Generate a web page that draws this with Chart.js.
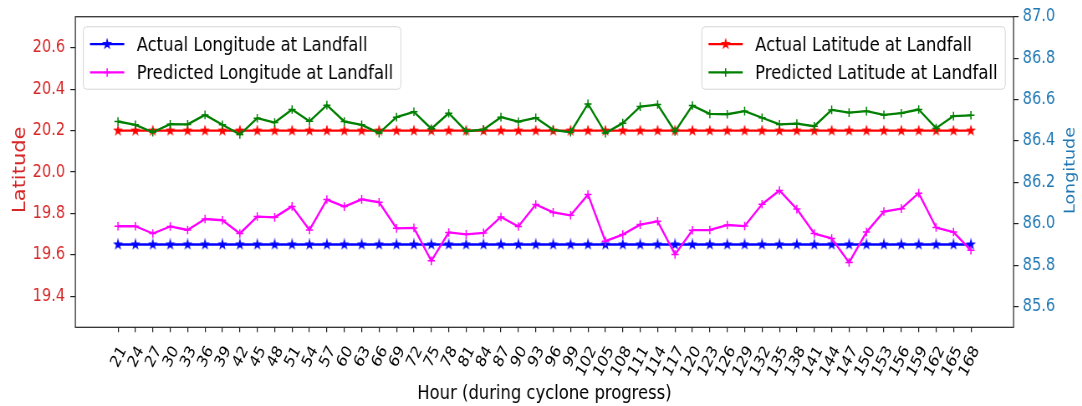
<!DOCTYPE html>
<html>
<head>
<meta charset="utf-8">
<script src="https://cdn.jsdelivr.net/npm/chart.js@4.4.1/dist/chart.umd.min.js"></script>
<style>
  html, body { margin: 0; padding: 0; background: #fff; overflow: hidden; }
  #wrap { width: 1294px; height: 406px; transform: scaleX(0.8362); transform-origin: 0 0; }
  canvas { display: block; }
</style>
</head>
<body>
<div id="wrap"><canvas id="c" width="1294" height="406"></canvas></div>
<script>
// Hours after genesis at which landfall position is estimated
const hours = [21, 24, 27, 30, 33, 36, 39, 42, 45, 48, 51, 54, 57, 60, 63, 66, 69, 72, 75, 78,
  81, 84, 87, 90, 93, 96, 99, 102, 105, 108, 111, 114, 117, 120, 123, 126, 129, 132, 135, 138,
  141, 144, 147, 150, 153, 156, 159, 162, 165, 168];

// Latitude (degrees N) – left axis
const actualLat = [20.2, 20.2, 20.2, 20.2, 20.2, 20.2, 20.2, 20.2, 20.2, 20.2,
  20.2, 20.2, 20.2, 20.2, 20.2, 20.2, 20.2, 20.2, 20.2, 20.2,
  20.2, 20.2, 20.2, 20.2, 20.2, 20.2, 20.2, 20.2, 20.2, 20.2,
  20.2, 20.2, 20.2, 20.2, 20.2, 20.2, 20.2, 20.2, 20.2, 20.2,
  20.2, 20.2, 20.2, 20.2, 20.2, 20.2, 20.2, 20.2, 20.2, 20.2];
const predictedLat = [20.244, 20.228, 20.192, 20.231, 20.230, 20.276, 20.228, 20.181, 20.260, 20.239,
  20.302, 20.245, 20.323, 20.244, 20.228, 20.188, 20.265, 20.291, 20.209, 20.284,
  20.197, 20.205, 20.265, 20.243, 20.262, 20.204, 20.192, 20.329, 20.188, 20.236,
  20.316, 20.326, 20.196, 20.321, 20.281, 20.279, 20.294, 20.262, 20.230, 20.234,
  20.221, 20.300, 20.287, 20.294, 20.276, 20.284, 20.302, 20.212, 20.270, 20.274];

// Longitude (degrees E) – right axis
const actualLon = [85.9, 85.9, 85.9, 85.9, 85.9, 85.9, 85.9, 85.9, 85.9, 85.9,
  85.9, 85.9, 85.9, 85.9, 85.9, 85.9, 85.9, 85.9, 85.9, 85.9,
  85.9, 85.9, 85.9, 85.9, 85.9, 85.9, 85.9, 85.9, 85.9, 85.9,
  85.9, 85.9, 85.9, 85.9, 85.9, 85.9, 85.9, 85.9, 85.9, 85.9,
  85.9, 85.9, 85.9, 85.9, 85.9, 85.9, 85.9, 85.9, 85.9, 85.9];
const predictedLon = [85.988, 85.988, 85.953, 85.987, 85.970, 86.023, 86.017, 85.953, 86.035, 86.031,
  86.084, 85.970, 86.117, 86.083, 86.118, 86.104, 85.978, 85.980, 85.821, 85.958,
  85.949, 85.956, 86.033, 85.987, 86.093, 86.055, 86.041, 86.141, 85.916, 85.948,
  85.996, 86.012, 85.852, 85.969, 85.970, 85.994, 85.989, 86.094, 86.161, 86.071,
  85.953, 85.929, 85.813, 85.960, 86.059, 86.073, 86.148, 85.982, 85.960, 85.872];

// Axis tick values
const latTicks = [19.4, 19.6, 19.8, 20.0, 20.2, 20.4, 20.6];
const lonTicks = [85.6, 85.8, 86.0, 86.2, 86.4, 86.6, 86.8, 87.0];

const FONT = '"DejaVu Sans", sans-serif';
Chart.defaults.font.family = FONT;

// Filled five-point star marker
function makeStar(color) {
  const c = document.createElement('canvas');
  c.width = 12; c.height = 12;
  const g = c.getContext('2d');
  const cx = 6, cy = 6, R = 4.3, r = R * 0.381966;
  g.beginPath();
  for (let k = 0; k < 10; k++) {
    const rad = (k % 2 === 0) ? R : r;
    const a = -Math.PI / 2 + k * Math.PI / 5;
    const px = cx + rad * Math.cos(a), py = cy + rad * Math.sin(a);
    if (k === 0) g.moveTo(px, py); else g.lineTo(px, py);
  }
  g.closePath();
  g.fillStyle = color; g.strokeStyle = color; g.lineWidth = 1.3; g.lineJoin = 'miter';
  g.fill(); g.stroke();
  return c;
}

const pts = vals => hours.map((h, i) => ({ x: h, y: vals[i] }));

function series(label, vals, color, axis, star) {
  return {
    label, data: pts(vals), yAxisID: axis,
    borderColor: color, backgroundColor: color,
    borderWidth: 2.3, tension: 0, borderJoinStyle: 'round',
    pointStyle: star ? makeStar(color) : 'cross',
    pointRadius: 4.3, pointBorderWidth: 1.5,
    pointBorderColor: color, pointBackgroundColor: color
  };
}

const dsPredLon = series('Predicted Longitude at Landfall', predictedLon, '#ff00ff', 'y1', false);
const dsActLon = series('Actual Longitude at Landfall', actualLon, '#0000ff', 'y1', true);
const dsPredLat = series('Predicted Latitude at Landfall', predictedLat, '#008000', 'y', false);
const dsActLat = series('Actual Latitude at Landfall', actualLat, '#ff0000', 'y', true);

function drawMarker(ctx, ds, x, y) {
  if (ds.pointStyle instanceof HTMLCanvasElement) {
    ctx.drawImage(ds.pointStyle, x - ds.pointStyle.width / 2, y - ds.pointStyle.height / 2);
  } else {
    ctx.beginPath();
    ctx.moveTo(x - ds.pointRadius, y); ctx.lineTo(x + ds.pointRadius, y);
    ctx.moveTo(x, y - ds.pointRadius); ctx.lineTo(x, y + ds.pointRadius);
    ctx.strokeStyle = ds.borderColor; ctx.lineWidth = ds.pointBorderWidth;
    ctx.stroke();
  }
}

function roundBox(ctx, x, y, w, h, r) {
  ctx.beginPath();
  ctx.moveTo(x + r, y);
  ctx.lineTo(x + w - r, y); ctx.arcTo(x + w, y, x + w, y + r, r);
  ctx.lineTo(x + w, y + h - r); ctx.arcTo(x + w, y + h, x + w - r, y + h, r);
  ctx.lineTo(x + r, y + h); ctx.arcTo(x, y + h, x, y + h - r, r);
  ctx.lineTo(x, y + r); ctx.arcTo(x, y, x + r, y, r);
  ctx.closePath();
}

function drawLegend(ctx, list, anchorX, top, alignRight) {
  const fs = 19.7;
  ctx.save();
  ctx.font = fs + 'px ' + FONT;
  const tw = Math.max(...list.map(d => ctx.measureText(d.label).width));
  const padL = 8, handle = 41, gap = 14.8, padR = 9.2, h = 62.5;
  const w = padL + handle + gap + tw + padR;
  const x = alignRight ? anchorX - w : anchorX;
  roundBox(ctx, x, top, w, h, 4);
  ctx.fillStyle = 'rgba(255,255,255,0.8)'; ctx.fill();
  ctx.strokeStyle = '#d6d6d6'; ctx.lineWidth = 1; ctx.stroke();
  list.forEach((d, i) => {
    const ry = top + 17.3 + i * 28.4;
    ctx.beginPath();
    ctx.moveTo(x + padL, ry); ctx.lineTo(x + padL + handle, ry);
    ctx.strokeStyle = d.borderColor; ctx.lineWidth = d.borderWidth; ctx.stroke();
    drawMarker(ctx, d, x + padL + handle / 2, ry);
    ctx.fillStyle = '#000'; ctx.textAlign = 'left'; ctx.textBaseline = 'alphabetic';
    ctx.fillText(d.label, x + padL + handle + gap, ry + 6.8);
  });
  ctx.restore();
}

// Frame, axis titles and the two legends
const decorations = {
  id: 'decorations',
  afterDraw(chart) {
    const ctx = chart.ctx, a = chart.chartArea;
    ctx.save();
    ctx.strokeStyle = '#222'; ctx.lineWidth = 1.2;
    ctx.strokeRect(a.left, a.top, a.right - a.left, a.bottom - a.top);

    const midY = (a.top + a.bottom) / 2;
    ctx.textAlign = 'center'; ctx.textBaseline = 'alphabetic';

    ctx.save();
    ctx.fillStyle = '#d62728'; ctx.font = '21px ' + FONT;
    ctx.translate(29.9, midY - 2.3); ctx.rotate(-Math.PI / 2);
    ctx.fillText('Latitude', 0, 0);
    ctx.restore();

    ctx.save();
    ctx.fillStyle = '#1f77b4'; ctx.font = '17.5px ' + FONT;
    ctx.translate(1285, midY - 1.5); ctx.rotate(-Math.PI / 2);
    ctx.fillText('Longitude', 0, 0);
    ctx.restore();

    ctx.fillStyle = '#000'; ctx.font = '19.6px ' + FONT;
    ctx.fillText('Hour (during cyclone progress)', (a.left + a.right) / 2, 399.3);
    ctx.restore();

    drawLegend(ctx, [dsActLon, dsPredLon], a.left + 9.5, a.top + 10, false);
    drawLegend(ctx, [dsActLat, dsPredLat], a.right - 9.9, a.top + 10, true);
  }
};

const tickGrid = len => ({ drawOnChartArea: false, drawTicks: true, tickLength: len, color: '#222', lineWidth: 1.2 });

new Chart(document.getElementById('c'), {
  type: 'line',
  data: { datasets: [dsPredLon, dsActLon, dsPredLat, dsActLat] },
  options: {
    responsive: false,
    animation: false,
    devicePixelRatio: 1,
    layout: { padding: { top: 16, left: 0, right: 0, bottom: 0 } },
    plugins: { legend: { display: false }, tooltip: { enabled: false } },
    scales: {
      x: {
        type: 'linear', min: 13.65, max: 175.35,
        afterBuildTicks: s => { s.ticks = hours.map(v => ({ value: v })); },
        afterFit: s => { s.height = 78.7; },
        ticks: {
          autoSkip: false, minRotation: 60, maxRotation: 60, labelOffset: 6.5, padding: 10.5,
          color: '#000', font: { size: 16.8 }, callback: v => String(v)
        },
        grid: tickGrid(5), border: { display: false }
      },
      y: {
        type: 'linear', position: 'left', min: 19.25, max: 20.75,
        afterBuildTicks: s => { s.ticks = latTicks.map(v => ({ value: v })); },
        afterFit: s => { s.width = 90.1; },
        ticks: { color: '#d62728', font: { size: 17.4 }, padding: 6.3, callback: v => Number(v).toFixed(1) },
        grid: tickGrid(6), border: { display: false }
      },
      y1: {
        type: 'linear', position: 'right', min: 85.5, max: 87.0,
        afterBuildTicks: s => { s.ticks = lonTicks.map(v => ({ value: v })); },
        afterFit: s => { s.width = 81.9; },
        ticks: { color: '#1f77b4', font: { size: 17.4 }, padding: 5, callback: v => Number(v).toFixed(1) },
        grid: tickGrid(6), border: { display: false }
      }
    }
  },
  plugins: [decorations]
});
</script>
</body>
</html>
